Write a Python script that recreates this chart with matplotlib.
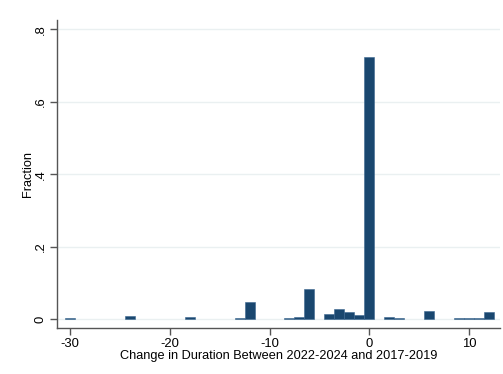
import matplotlib
matplotlib.use("Agg")
import matplotlib.pyplot as plt

plt.rcParams['font.family'] = ['Liberation Sans', 'DejaVu Sans']
plt.rcParams['axes.unicode_minus'] = False

# valores (histograma discreto, fração)
change = [-30, -24, -18, -13, -12, -8, -7, -6, -4, -3, -2, -1, 0, 2, 3, 6, 9, 10, 11, 12]
fraction = [0.003, 0.010, 0.007, 0.003, 0.048, 0.005, 0.006, 0.084, 0.015, 0.028,
            0.021, 0.012, 0.722, 0.006, 0.005, 0.023, 0.003, 0.003, 0.003, 0.021]

x_ticks = [-30, -20, -10, 0, 10]
y_ticks = [0, 0.2, 0.4, 0.6, 0.8]
y_tick_labels = ['0', '.2', '.4', '.6', '.8']

fig = plt.figure(figsize=(5.03, 3.74), dpi=100)
ax = fig.add_axes([0.1133, 0.1238, 0.8807, 0.8227])

ax.bar(change, fraction, width=1.0, color='#1a476f', edgecolor='#3a6690',
       linewidth=0.4, zorder=3)

ax.set_xlim(-31.3, 13.1)
ax.set_ylim(-0.023, 0.825)
ax.set_xticks(x_ticks)
ax.set_yticks(y_ticks)
ax.set_yticklabels(y_tick_labels, rotation=90, va='center')

ax.yaxis.grid(True, color='#eaf0f1', linewidth=1.0, zorder=0)
ax.xaxis.grid(False)

for side in ['top', 'right']:
    ax.spines[side].set_visible(False)
for side in ['left', 'bottom']:
    ax.spines[side].set_color('#555555')
    ax.spines[side].set_linewidth(1.0)

ax.tick_params(axis='both', colors='#555555', labelcolor='black', length=5,
               width=1.0, labelsize=9.4, direction='out', pad=2.5)

ax.set_xlabel('Change in Duration Between 2022-2024 and 2017-2019', fontsize=9.2,
              labelpad=0)
ax.set_ylabel('Fraction', fontsize=9.2, labelpad=0.5)

fig.savefig('out.png', dpi=100)
